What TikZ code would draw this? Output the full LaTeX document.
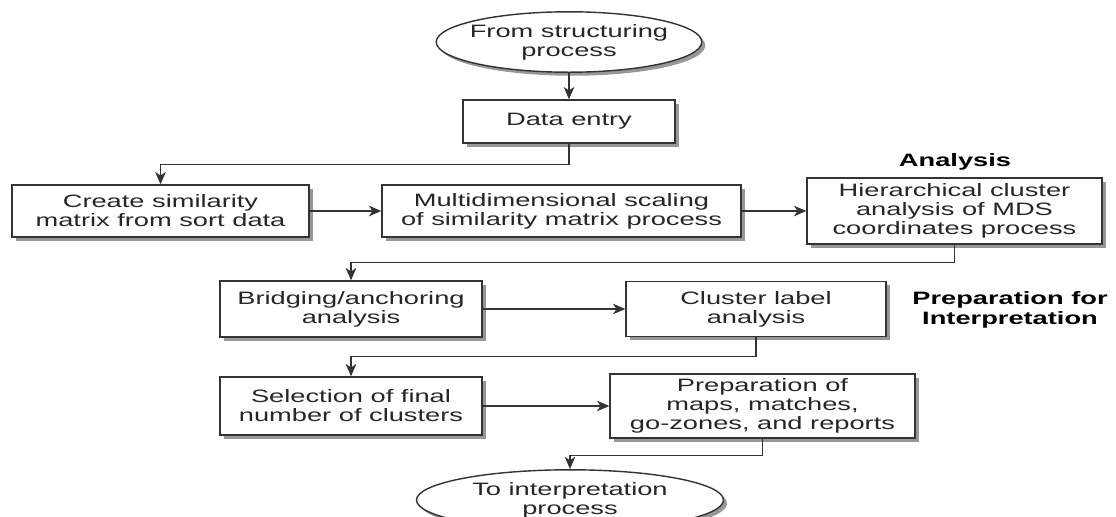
\documentclass[tikz,border=0pt]{standalone}
\usepackage{fontspec}
\setmainfont[FakeStretch=1.52]{Liberation Sans}
\usetikzlibrary{shapes.geometric,shadows,arrows.meta}

\begin{document}
\begin{tikzpicture}[>={Stealth[length=7pt,width=6pt,inset=2pt]}, font=\fontsize{10.2}{10.8}\selectfont, text=black!85,
        proc/.style={draw=black!80, line width=0.8pt, fill=white, align=center, inner sep=2pt,
            drop shadow={shadow xshift=2pt, shadow yshift=-2pt, fill=black!45, opacity=0.9}},
        term/.style={proc, ellipse},
        phase/.style={font=\fontsize{10.2}{11}\selectfont\bfseries, text=black, align=center},
        link/.style={->, draw=black!80, line width=0.8pt}]
        \useasboundingbox (0,0) rectangle (22.32,10.32);
        \node[term, inner xsep=-3pt, minimum width=5.16cm, minimum height=1.18cm] (start) at (11.38,9.48) {From structuring\\process};
        \node[proc, minimum width=4.24cm, minimum height=0.86cm] (data) at (11.38,7.89) {Data entry};
        \node[proc, minimum width=5.94cm, minimum height=1.04cm] (simil) at (3.21,6.10) {Create similarity\\matrix from sort data};
        \node[proc, minimum width=7.18cm, minimum height=1.04cm] (mds) at (11.23,6.10) {Multidimensional scaling\\of similarity matrix process};
        \node[proc, minimum width=5.90cm, minimum height=1.32cm] (hier) at (19.09,6.10) {Hierarchical cluster\\analysis of MDS\\coordinates process};
        \node[phase] (analysis) at (19.10,7.08) {Analysis};
        \node[proc, minimum width=5.24cm, minimum height=1.12cm] (bridge) at (7.02,4.14) {Bridging/anchoring\\analysis};
        \node[proc, minimum width=5.20cm, minimum height=1.10cm] (label) at (15.12,4.14) {Cluster label\\analysis};
        \node[phase] (prepinterp) at (20.20,4.12) {Preparation for\\Interpretation};
        \node[proc, minimum width=5.24cm, minimum height=1.16cm] (select) at (7.02,2.20) {Selection of final\\number of clusters};
        \node[proc, minimum width=6.10cm, minimum height=1.28cm] (maps) at (15.25,2.20) {Preparation of\\maps, matches,\\go-zones, and reports};
        \node[term, minimum width=6.14cm, minimum height=1.0cm] (finish) at (11.40,0.32) {To interpretation\\process};
        \draw[link] (start) -- (data);
        \draw[link] (data.south) -- ++(0,-0.42) -| (simil.north);
        \draw[link] (simil) -- (mds);
        \draw[link] (mds) -- (hier);
        \draw[link] (hier.south) -- ++(0,-0.36) -| (bridge.north);
        \draw[link] (bridge) -- (label);
        \draw[link] (label.south) -- ++(0,-0.38) -| (select.north);
        \draw[link] (select) -- (maps);
        \draw[link] (maps.south) -- ++(0,-0.34) -| (finish.north);
    \end{tikzpicture}
\end{document}
